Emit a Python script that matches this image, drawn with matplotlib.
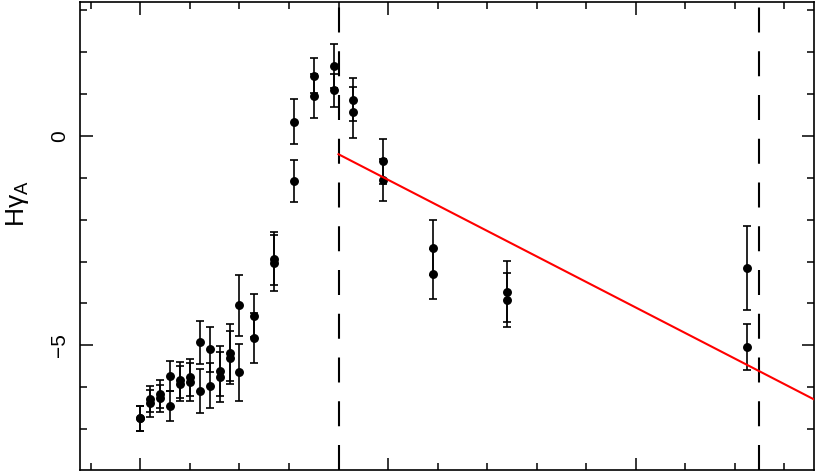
import matplotlib
matplotlib.use("Agg")
import matplotlib.pyplot as plt
import numpy as np
from matplotlib.ticker import MultipleLocator, NullFormatter

plt.rcParams['font.family'] = ['Liberation Sans', 'DejaVu Sans']

# x positions (unlabelled axis)
x = [8.00, 8.04, 8.08, 8.12, 8.16, 8.20, 8.24, 8.28, 8.32, 8.36, 8.40, 8.46,
     8.54, 8.62, 8.70, 8.78, 8.86, 8.98, 9.18, 9.48, 10.45]
# first (upper) series
y1 = [-6.74, -6.28, -6.17, -5.74, -5.83, -5.77, -4.93, -5.10, -5.61, -5.18, -4.05, -4.29,
      -2.93, 0.34, 1.44, 1.67, 0.87, -0.61, -2.67, -3.72, -3.16]
e1 = [0.30, 0.31, 0.33, 0.36, 0.42, 0.45, 0.51, 0.54, 0.60, 0.68, 0.73, 0.52,
      0.64, 0.54, 0.42, 0.52, 0.51, 0.54, 0.66, 0.73, 1.00]
# second (lower) series
y2 = [-6.74, -6.39, -6.27, -6.46, -5.92, -5.88, -6.09, -5.97, -5.75, -5.30, -5.65, -4.83,
      -3.03, -1.07, 0.96, 1.09, 0.57, -1.05, -3.30, -3.92, -5.04]
e2 = [0.30, 0.32, 0.33, 0.36, 0.42, 0.46, 0.52, 0.54, 0.60, 0.63, 0.67, 0.60,
      0.67, 0.50, 0.52, 0.40, 0.61, 0.50, 0.60, 0.64, 0.55]

# vertical dashed markers
vlines = [8.8, 10.5]
# linear fit: y = fit_y0 + fit_slope * (x - fit_x0), drawn from fit_x0 onward
fit_x0 = 8.8
fit_y0 = -0.437
fit_slope = -3.05

fig = plt.figure(figsize=(8.17, 4.72), dpi=100)
ax = fig.add_axes([0.0979, 0.00424, 0.8984, 0.9915])
xlim = (7.756, 10.72)
ax.set_xlim(*xlim)
ax.set_ylim(-7.98, 3.2)

for ys, es in ((y1, e1), (y2, e2)):
    ax.errorbar(x, ys, yerr=es, fmt='o', color='black', ms=5.4, elinewidth=1.2,
                capsize=3.2, capthick=1.2, zorder=3)

for v in vlines:
    ax.axvline(v, color='black', lw=1.5, dashes=(12, 9), zorder=2)

xf = np.array([fit_x0, xlim[1]])
ax.plot(xf, fit_y0 + fit_slope * (xf - fit_x0), color='red', lw=1.5, zorder=4)

ax.xaxis.set_major_locator(MultipleLocator(1))
ax.xaxis.set_minor_locator(MultipleLocator(0.2))
ax.yaxis.set_major_locator(MultipleLocator(5))
ax.yaxis.set_minor_locator(MultipleLocator(1))
ax.xaxis.set_major_formatter(NullFormatter())
ax.tick_params(which='both', direction='in', top=True, right=True, width=1.1)
ax.tick_params(which='major', length=9)
ax.tick_params(which='minor', length=5)
ax.tick_params(axis='y', labelsize=15, pad=8)
for lab in ax.get_yticklabels():
    lab.set_rotation(90)
    lab.set_va('center')
for s in ax.spines.values():
    s.set_linewidth(1.2)

ax.set_ylabel(r'$\mathregular{H\gamma_A}$', fontsize=19)
ax.yaxis.set_label_coords(-0.067, 0.57)

fig.savefig('out.png', dpi=100)
